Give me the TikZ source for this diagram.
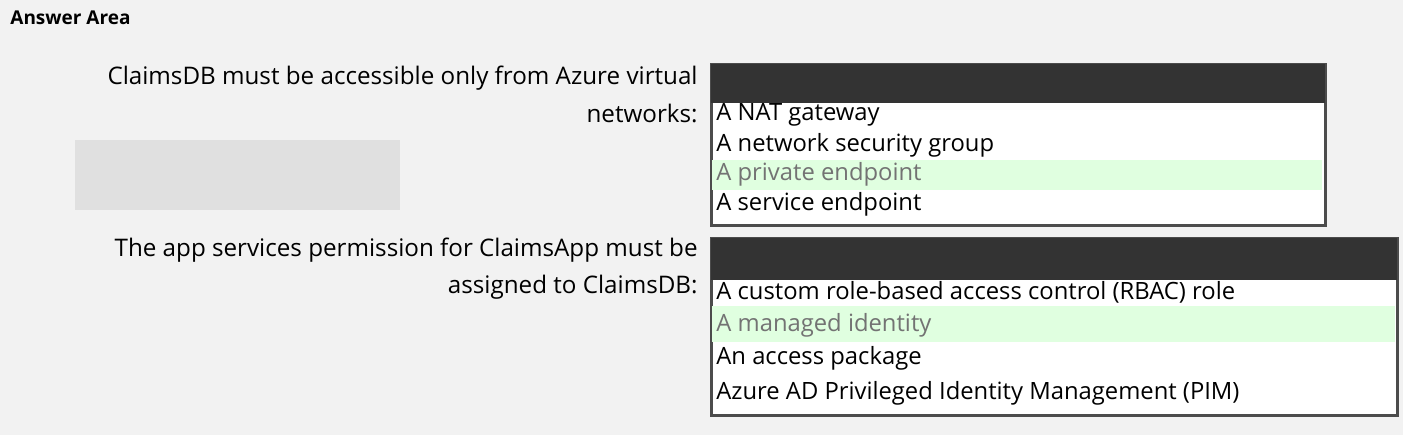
\documentclass[tikz,border=0pt]{standalone}
\usepackage{fontspec}
\setmainfont{Open Sans}
\begin{document}
\begin{tikzpicture}[x=0.5pt,y=-0.5pt,
  lbl/.style={anchor=east,inner sep=0pt,font=\fontsize{12.1}{14}\selectfont},
  opt/.style={anchor=west,inner sep=0pt,font=\fontsize{11.9}{14}\selectfont},
  sel/.style={opt,text=black!55},
  hl/.style={fill=green!12!white,draw=none}]
\useasboundingbox[fill=black!5] (0,0) rectangle (1403,435);
\node[anchor=west,inner sep=0pt,font=\bfseries\fontsize{9.5}{11}\selectfont] (title) at (10,18) {Answer Area};
\fill[black!12] (75,140) rectangle (400,210);
% block 1
\node[lbl] (l1a) at (698,78) {ClaimsDB must be accessible only from Azure virtual};
\node[lbl] (l1b) at (698,113) {networks:};
\draw[black!70,line width=1.5pt,fill=white] (711,64) rectangle (1325,225);
\fill[black!80] (711,64) rectangle (1325,103);
\fill[hl] (712,160) rectangle (1322,190);
\node[opt] (o11) at (716,115) {A NAT gateway};
\node[opt] (o12) at (716,145) {A network security group};
\node[sel] (o13) at (716,174) {A private endpoint};
\node[opt] (o14) at (716,204) {A service endpoint};
% block 2
\node[lbl] (l2a) at (698,250) {The app services permission for ClaimsApp must be};
\node[lbl] (l2b) at (698,287) {assigned to ClaimsDB:};
\draw[black!70,line width=1.5pt,fill=white] (711,238) rectangle (1397,415);
\fill[black!80] (711,238) rectangle (1397,280);
\fill[hl] (712,306) rectangle (1395,342);
\node[opt] (o21) at (716,292) {A custom role-based access control (RBAC) role};
\node[sel] (o22) at (716,325) {A managed identity};
\node[opt] (o23) at (716,358) {An access package};
\node[opt] (o24) at (716,393) {Azure AD Privileged Identity Management (PIM)};
\end{tikzpicture}
\end{document}
